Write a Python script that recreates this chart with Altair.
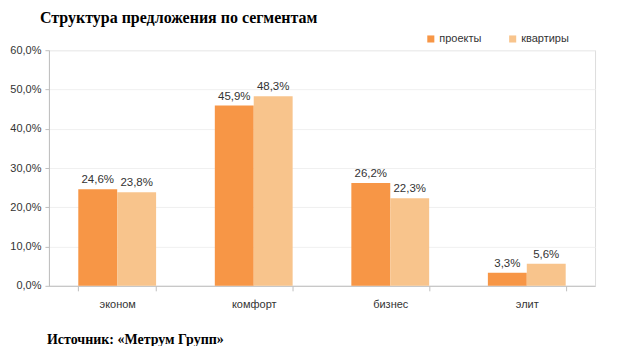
import altair as alt
import pandas as pd

categories = ["эконом", "комфорт", "бизнес", "элит"]
series_names = ["проекты", "квартиры"]
projects = [24.6, 45.9, 26.2, 3.3]
apartments = [23.8, 48.3, 22.3, 5.6]
y_ticks = [0, 10, 20, 30, 40, 50, 60]
title_text = "Структура предложения по сегментам"
source_text = "Источник: «Метрум Групп»"

rows = []
for c, p, a in zip(categories, projects, apartments):
    rows.append({"cat": c, "series": series_names[0], "val": p})
    rows.append({"cat": c, "series": series_names[1], "val": a})
df = pd.DataFrame(rows)

colors = ["#F79646", "#F8C48C"]

x_enc = alt.X("cat:N", sort=categories, title=None,
              scale=alt.Scale(paddingInner=0.43, paddingOuter=0.215),
              axis=alt.Axis(labelAngle=0, labelFont="Liberation Sans", labelFontSize=11,
                            labelColor="#333333", labelPadding=8, domainColor="#BFBFBF",
                            tickColor="#BFBFBF", tickSize=5, tickBand="extent", grid=False))
xoff = alt.XOffset("series:N", sort=series_names, scale=alt.Scale(paddingInner=0, paddingOuter=0))
y_enc = alt.Y("val:Q", title=None,
              scale=alt.Scale(domain=[0, 60], nice=False),
              axis=alt.Axis(values=y_ticks, labelOverlap=False,
                            labelExpr="replace(format(datum.value, '.1f'), '.', ',') + '%'",
                            labelFont="Liberation Sans", labelFontSize=11, labelColor="#333333",
                            domainColor="#BFBFBF", tickColor="#BFBFBF", tickSize=4,
                            gridColor="#F0F0F0", labelPadding=4))

base = alt.Chart(df)

bars = base.mark_bar().encode(
    x=x_enc,
    xOffset=xoff,
    y=y_enc,
    color=alt.Color("series:N", sort=series_names,
                    scale=alt.Scale(domain=series_names, range=colors),
                    legend=alt.Legend(title=None, orient="none", direction="horizontal",
                                      legendX=377, legendY=-17, symbolType="square",
                                      symbolSize=50, symbolStrokeWidth=0,
                                      labelFont="Liberation Sans", labelFontSize=11,
                                      labelColor="#333333", columnPadding=25,
                                      labelOffset=3)),
)

labels = base.transform_calculate(
    lab="replace(format(datum.val, '.1f'), '.', ',') + '%'"
).mark_text(dy=-9, font="Liberation Sans", fontSize=11.5, color="#333333").encode(
    x=x_enc,
    xOffset=xoff,
    y=y_enc,
    text="lab:N",
)

title = alt.Chart(pd.DataFrame({"t": [title_text]})).mark_text(
    align="left", baseline="middle", font="Liberation Serif", fontSize=16,
    fontWeight="bold", color="#000000"
).encode(text="t:N", x=alt.value(-9), y=alt.value(-32))

source = alt.Chart(pd.DataFrame({"t": [source_text]})).mark_text(
    align="left", baseline="middle", font="Liberation Serif", fontSize=14,
    fontWeight="bold", color="#000000"
).encode(text="t:N", x=alt.value(-2), y=alt.value(290))

chart = alt.layer(bars, labels, title, source).properties(
    width=547, height=236,
    autosize=alt.AutoSizeParams(type="none"),
    padding={"left": 41, "top": 42, "right": 30, "bottom": 60},
).configure_view(stroke=None).configure(background="white")

chart.save("out.html", embed_options={"renderer": "svg", "actions": False})
